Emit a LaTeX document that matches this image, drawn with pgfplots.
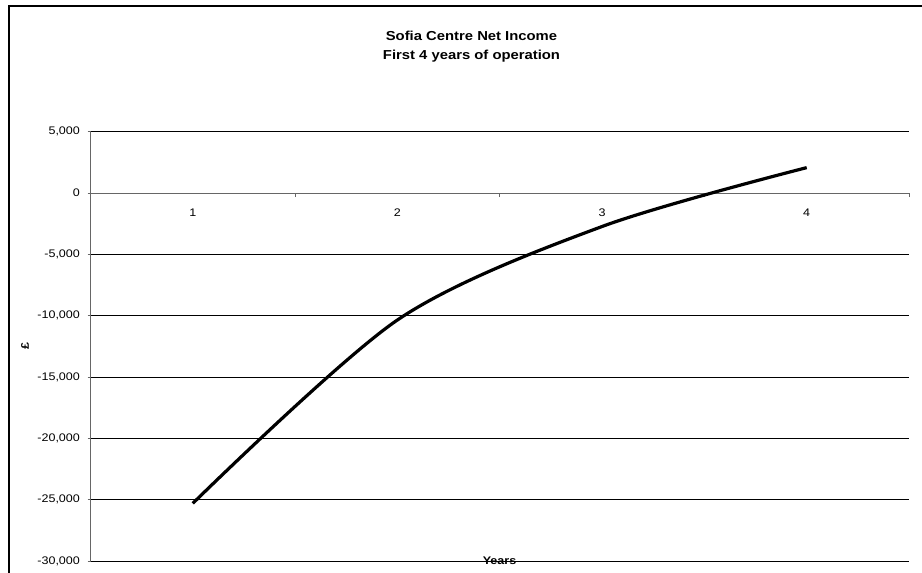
\documentclass[border=0pt]{standalone}
\usepackage{fontspec}
\setmainfont{Liberation Sans}[FakeStretch=1.14]
\usepackage{pgfplots}
\pgfplotsset{compat=1.18}
\begin{document}
\begin{tikzpicture}
\path[use as bounding box] (0pt,0pt) rectangle (691.5pt,429.75pt);
\draw[line width=1.5pt] (6.375pt,424.875pt) rectangle (710pt,-20pt);
\begin{axis}[
  at={(67.875pt,9pt)}, anchor=south west,
  scale only axis, width=613.9pt, height=321.98pt,
  xmin=0.5, xmax=4.5, ymin=-30000, ymax=5000,
  axis x line*=middle, axis y line*=left,
  axis line style={black!60, line width=0.7pt},
  xtick={1,2,3,4}, xticklabels={1,2,3,4},
  major x tick style={draw=none},
  minor xtick={0.5,1.5,2.5,3.5,4.5},
  minor x tick style={black!60, line width=0.7pt},
  minor tick length=3pt,
  ytick={-30000,-25000,...,5000},
  major y tick style={black!60, line width=0.7pt},
  major tick length=2.2pt,
  tick align=outside,
  ymajorgrids, grid style={black, line width=0.6pt},
  scaled y ticks=false,
  yticklabel style={/pgf/number format/1000 sep={,}, /pgf/number format/assume math mode=true, xshift=-2.2pt},
  ticklabel style={font=\fontsize{8.25}{10}\selectfont},
  xticklabel style={yshift=-6pt},
  clip=false,
]
\addplot[black, line width=2.4pt, smooth] coordinates {(1,-25300) (2,-10350) (3,-2730) (4,2070)};
\end{axis}
\node[font=\fontsize{9.75}{14.25}\selectfont\bfseries, align=center] at (353.625pt,394.875pt) {Sofia Centre Net Income\\First 4 years of operation};
\node[font=\fontsize{8.25}{10}\selectfont\bfseries, rotate=90] at (18.75pt,170.25pt) {£};
\node[font=\fontsize{8.25}{10}\selectfont\bfseries] at (374.625pt,9.375pt) {Years};
\end{tikzpicture}
\end{document}
